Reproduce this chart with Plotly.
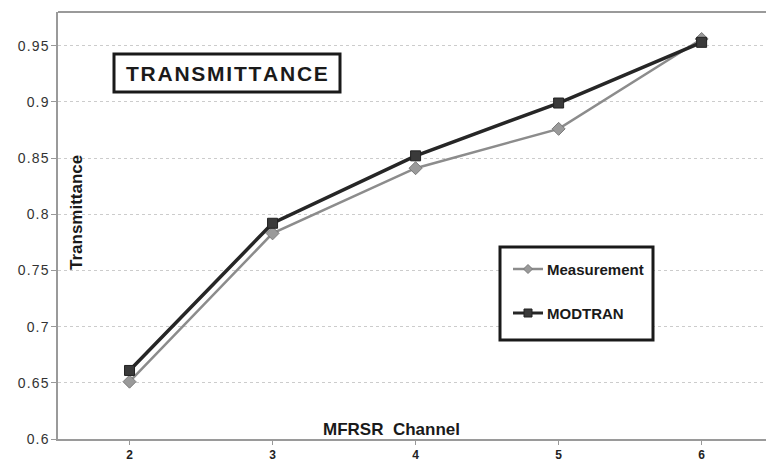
import plotly.graph_objects as go

channels = [2, 3, 4, 5, 6]
channel_labels = ["2", "3", "4", "5", "6"]
measurement = [0.651, 0.783, 0.841, 0.876, 0.956]
modtran = [0.661, 0.792, 0.852, 0.899, 0.953]
y_ticks = [0.6, 0.65, 0.7, 0.75, 0.8, 0.85, 0.9, 0.95]
y_ticktext = ["0.6", "0.65", "0.7", "0.75", "0.8", "0.85", "0.9", "0.95"]
series_names = ["Measurement", "MODTRAN"]

HS = "\u200a"
def spaced(s):
    return HS.join(list(s))

MEAS_LINE, MEAS_MARK = "#8c8c8c", "#9a9a9a"
MOD_LINE, MOD_MARK = "#262626", "#3a3a3a"

fig = go.Figure()
fig.add_trace(go.Scatter(
    x=channels, y=measurement, name=series_names[0], mode="lines+markers",
    line=dict(color=MEAS_LINE, width=2.5),
    marker=dict(symbol="diamond", size=10, color=MEAS_MARK, line=dict(color="#7a7a7a", width=1)),
    showlegend=False))
fig.add_trace(go.Scatter(
    x=channels, y=modtran, name=series_names[1], mode="lines+markers",
    line=dict(color=MOD_LINE, width=3.5),
    marker=dict(symbol="square", size=10, color=MOD_MARK, line=dict(color="#222", width=1)),
    showlegend=False))

W, H = 766, 464
L, T, B = 58, 12, 25
PW, PH = W - L, H - B - T

def px(x):
    return (x - L) / PW

def py(y):
    return (H - B - y) / PH

shapes = [
    dict(type="line", xref="paper", yref="paper", x0=0, x1=1, y0=1, y1=1,
         line=dict(color="#9a9a9a", width=2)),
    dict(type="rect", xref="paper", yref="paper",
         x0=px(114), x1=px(340), y0=py(92), y1=py(54),
         line=dict(color="#1a1a1a", width=3), fillcolor="white"),
    dict(type="rect", xref="paper", yref="paper",
         x0=px(500), x1=px(653), y0=py(340), y1=py(247),
         line=dict(color="#1a1a1a", width=3), fillcolor="white"),
]

annotations = [
    dict(text=spaced("TRANSMITTANCE"), xref="paper", yref="paper",
         x=px(227), y=py(73), xanchor="center", yanchor="middle",
         showarrow=False, font=dict(size=21, color="#1a1a1a", weight="bold")),
    dict(text="Transmittance", xref="paper", yref="paper",
         x=px(76), y=py(213), xanchor="center", yanchor="middle", textangle=-90,
         showarrow=False, font=dict(size=17, color="#1a1a1a", weight="bold")),
    dict(text="MFRSR  Channel", xref="paper", yref="paper",
         x=px(391), y=py(429), xanchor="center", yanchor="middle",
         showarrow=False, font=dict(size=17, color="#1a1a1a", weight="bold")),
]

legend_rows = [(269, series_names[0], MEAS_LINE, MEAS_MARK, "diamond"),
               (313, series_names[1], MOD_LINE, MOD_MARK, "square")]
for yy, name, lc, mc, sym in legend_rows:
    shapes.append(dict(type="line", xref="paper", yref="paper",
                       x0=px(513), x1=px(543), y0=py(yy), y1=py(yy),
                       line=dict(color=lc, width=3 if sym == "square" else 2.5)))
    cx, cy = 528, yy
    if sym == "diamond":
        path = (f"M {px(cx)} {py(cy-4.5)} L {px(cx+4.5)} {py(cy)} "
                f"L {px(cx)} {py(cy+4.5)} L {px(cx-4.5)} {py(cy)} Z")
        shapes.append(dict(type="path", xref="paper", yref="paper", path=path,
                           fillcolor=mc, line=dict(color="#7a7a7a", width=1)))
    else:
        shapes.append(dict(type="rect", xref="paper", yref="paper",
                           x0=px(cx-4), x1=px(cx+4), y0=py(cy+4), y1=py(cy-4),
                           fillcolor=mc, line=dict(color="#222", width=1)))
    annotations.append(dict(text=name, xref="paper", yref="paper",
                            x=px(545), y=py(yy), xanchor="left", yanchor="middle",
                            showarrow=False,
                            font=dict(size=15, color="#1a1a1a", weight="bold")))

fig.update_layout(
    width=W, height=H,
    margin=dict(l=L, r=0, t=T, b=B, pad=0),
    paper_bgcolor="white", plot_bgcolor="white",
    font=dict(family="Liberation Sans, Arial, sans-serif", color="#222"),
    showlegend=False,
    xaxis=dict(
        range=[1.5, 6.45], tickvals=channels, ticktext=channel_labels,
        tickson="boundaries", ticks="outside", ticklen=4, tickcolor="#999",
        showgrid=False, showline=True, linecolor="#9a9a9a", linewidth=2,
        tickfont=dict(size=12, color="#222", weight="bold"),
        zeroline=False,
    ),
    yaxis=dict(
        range=[0.6, 0.98], tickvals=y_ticks, ticktext=[spaced(t) for t in y_ticktext],
        ticks="outside", ticklen=5, tickcolor="#999",
        showgrid=True, gridcolor="#cccccc", griddash="dot", gridwidth=1,
        showline=True, linecolor="#9a9a9a", linewidth=1.5, mirror=False,
        tickfont=dict(size=14, color="#333"),
        zeroline=False,
    ),
    shapes=shapes,
    annotations=annotations,
)

fig.write_html("out.html")
